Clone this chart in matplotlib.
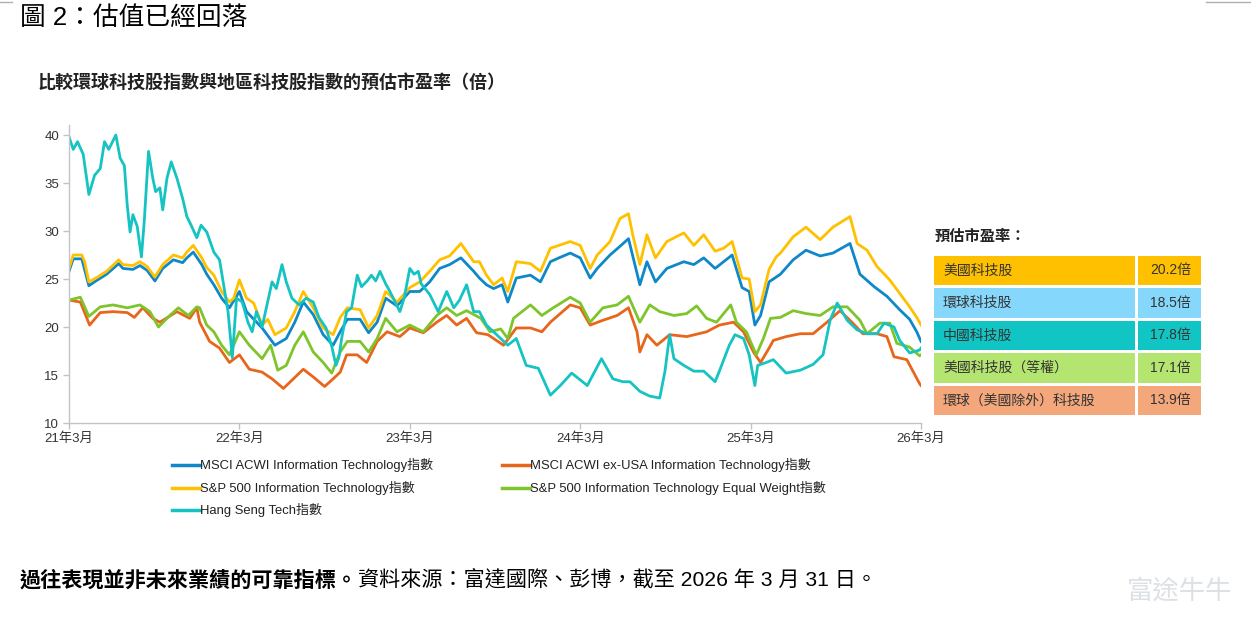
import matplotlib
matplotlib.use("Agg")
import matplotlib.pyplot as plt
from matplotlib import font_manager
from matplotlib.lines import Line2D
from matplotlib.patches import Rectangle

# (months since 2021-03, forward P/E)
acwi_it = [(0, 25.8), (0.3, 27.1), (0.9, 27.1), (1.4, 24.3), (1.9, 24.8), (2.65, 25.5), (3.5, 26.6), (3.8, 26.1),
           (4.5, 26.0), (5.0, 26.4), (5.5, 25.9), (6.05, 24.8), (6.6, 26.1), (7.35, 27.0), (8.0, 26.7), (8.3, 27.2),
           (8.75, 27.8), (9.35, 26.5), (9.7, 25.5), (10.2, 24.4), (10.75, 23.0), (11.3, 22.0), (12.0, 23.7),
           (12.5, 21.6), (13.6, 19.9), (14.5, 18.1), (15.3, 18.8), (15.9, 20.5), (16.5, 22.6), (17.2, 21.3),
           (17.9, 19.2), (18.6, 18.1), (19.1, 19.5), (19.6, 20.8), (20.5, 20.8), (21.1, 19.4), (21.7, 20.5),
           (22.3, 23.0), (23.1, 22.2), (24.0, 23.7), (24.7, 23.7), (25.4, 24.7), (26.1, 26.1), (26.8, 26.5),
           (27.6, 27.2), (28.5, 25.8), (28.9, 25.1), (29.4, 24.4), (29.9, 24.0), (30.5, 24.4), (30.9, 22.6),
           (31.5, 25.1), (32.5, 25.4), (33.2, 24.7), (33.9, 26.8), (34.5, 27.2), (35.3, 27.7), (36.0, 27.2),
           (36.7, 25.1), (37.2, 26.1), (38.1, 27.5), (38.8, 28.4), (39.4, 29.2), (40.2, 24.4), (40.7, 26.8),
           (41.3, 24.7), (42.1, 26.1), (43.3, 26.8), (44.0, 26.5), (44.7, 27.2), (45.5, 26.1), (46.7, 27.5),
           (47.4, 24.1), (47.9, 23.7), (48.3, 20.2), (48.7, 21.2), (49.3, 24.7), (50.1, 25.5), (51.0, 27.0),
           (51.9, 28.0), (52.9, 27.4), (53.8, 27.7), (55.0, 28.7), (55.7, 25.5), (56.7, 24.2), (57.6, 23.2),
           (58.5, 21.8), (59.2, 20.8), (59.7, 19.5), (60, 18.5)]

acwi_ex_usa_it = [(0, 22.8), (0.8, 22.6), (1.45, 20.2), (2.2, 21.5), (3.1, 21.6), (4.1, 21.5), (4.6, 21.0),
                  (5.2, 22.0), (5.9, 20.9), (6.4, 20.5), (7.6, 21.6), (8.5, 20.9), (9.0, 22.0), (9.2, 20.5),
                  (9.9, 18.5), (10.6, 17.8), (11.3, 16.3), (12.0, 17.1), (12.7, 15.6), (13.6, 15.3), (14.3, 14.6),
                  (15.1, 13.6), (15.8, 14.6), (16.5, 15.6), (17.2, 14.8), (18.0, 13.8), (18.6, 14.6), (19.1, 15.3),
                  (19.55, 17.1), (20.3, 17.1), (20.96, 16.3), (21.7, 18.5), (22.4, 19.5), (23.3, 19.0),
                  (24.0, 19.9), (24.95, 19.4), (25.9, 20.5), (26.6, 21.2), (27.3, 20.2), (28.0, 20.9),
                  (28.7, 19.4), (29.5, 19.2), (30.6, 18.1), (31.5, 19.9), (32.5, 19.9), (33.3, 19.5),
                  (33.9, 20.5), (35.3, 22.3), (36.0, 22.0), (36.7, 20.2), (37.6, 20.7), (38.6, 21.2),
                  (39.4, 22.0), (40.0, 19.5), (40.2, 17.4), (40.7, 19.2), (41.4, 18.1), (42.3, 19.2),
                  (43.5, 19.0), (44.9, 19.5), (45.8, 20.2), (46.8, 20.5), (47.5, 19.5), (48.2, 17.4),
                  (48.7, 16.3), (49.3, 17.8), (49.6, 18.6), (50.5, 19.0), (51.5, 19.3), (52.4, 19.3),
                  (53.3, 20.4), (54.3, 21.7), (55.2, 20.4), (55.9, 19.3), (56.9, 19.3), (57.6, 19.0),
                  (58.1, 16.9), (59.0, 16.6), (59.9, 14.1), (60, 13.9)]

sp500_it = [(0, 26.1), (0.3, 27.5), (0.9, 27.5), (1.1, 26.8), (1.4, 24.7), (1.9, 25.1), (2.65, 25.8), (3.5, 27.0),
            (3.8, 26.5), (4.5, 26.4), (5.0, 26.8), (5.5, 26.3), (6.05, 25.2), (6.6, 26.5), (7.35, 27.5),
            (8.0, 27.2), (8.3, 27.8), (8.75, 28.5), (9.35, 27.2), (9.7, 26.2), (10.2, 25.4), (10.75, 23.7),
            (11.3, 22.6), (11.6, 23.0), (12.0, 24.9), (12.5, 23.0), (13.0, 22.5), (13.6, 20.2), (14.0, 20.8),
            (14.5, 19.2), (15.3, 19.9), (15.9, 21.6), (16.5, 23.7), (17.2, 22.0), (17.9, 19.9), (18.6, 19.2),
            (19.1, 21.0), (19.6, 22.0), (20.5, 21.8), (21.1, 19.9), (21.7, 21.2), (22.3, 23.7), (23.1, 22.6),
            (24.0, 24.1), (24.7, 24.7), (25.4, 25.8), (26.1, 27.0), (26.8, 27.4), (27.6, 28.7), (28.5, 26.8),
            (28.9, 26.8), (29.4, 25.4), (29.9, 24.4), (30.5, 25.1), (30.9, 23.7), (31.5, 26.8), (32.5, 26.6),
            (33.2, 25.8), (33.9, 28.2), (34.5, 28.5), (35.3, 28.9), (36.0, 28.5), (36.7, 26.1), (37.2, 27.5),
            (38.1, 28.9), (38.8, 31.3), (39.4, 31.8), (39.7, 29.6), (40.2, 26.5), (40.7, 29.6), (41.3, 27.2),
            (42.1, 28.9), (43.3, 29.8), (44.0, 28.5), (44.7, 29.6), (45.5, 27.9), (46.1, 28.2), (46.7, 28.9),
            (47.4, 25.1), (47.9, 25.0), (48.3, 21.6), (48.7, 22.3), (49.3, 26.0), (49.8, 27.3), (50.1, 27.7),
            (51.0, 29.4), (51.9, 30.4), (52.9, 29.1), (53.8, 30.4), (55.0, 31.5), (55.5, 28.7), (56.2, 28.0),
            (56.9, 26.3), (57.8, 24.9), (58.5, 23.5), (59.2, 22.1), (59.7, 21.0), (60, 20.2)]

sp500_it_ew = [(0, 22.8), (0.8, 23.1), (1.4, 21.1), (2.2, 22.1), (3.1, 22.3), (4.1, 22.0), (5.0, 22.3),
               (5.7, 21.6), (6.3, 20.0), (7.1, 21.2), (7.7, 22.0), (8.4, 21.2), (9.0, 22.1), (9.2, 22.0),
               (9.7, 20.2), (10.2, 19.5), (10.75, 18.1), (11.3, 17.1), (12.0, 19.5), (12.7, 18.1), (13.6, 16.7),
               (14.2, 18.1), (14.7, 15.5), (15.3, 16.0), (15.9, 18.1), (16.5, 19.5), (17.2, 17.4), (17.9, 16.3),
               (18.5, 15.2), (19.1, 17.4), (19.6, 18.5), (20.5, 18.5), (21.1, 17.4), (21.7, 18.8), (22.3, 20.9),
               (23.1, 19.5), (24.0, 20.2), (24.95, 19.5), (25.9, 21.2), (26.6, 22.0), (27.3, 21.2), (28.0, 21.7),
               (29.0, 20.9), (29.65, 19.5), (30.4, 19.8), (30.9, 18.8), (31.3, 20.9), (32.5, 22.3), (33.3, 21.2),
               (34.1, 22.0), (35.3, 23.1), (36.0, 22.5), (36.7, 20.5), (37.6, 22.0), (38.6, 22.3), (39.4, 23.2),
               (40.2, 20.5), (40.9, 22.3), (41.6, 21.6), (42.6, 21.2), (43.5, 21.4), (44.2, 22.2), (44.9, 20.9),
               (45.6, 20.5), (46.6, 22.3), (47.0, 20.5), (47.7, 19.5), (48.4, 17.1), (48.9, 18.8), (49.4, 20.9),
               (50.1, 21.0), (51.0, 21.7), (51.9, 21.4), (52.9, 21.2), (53.8, 22.1), (54.8, 22.1), (55.7, 20.7),
               (56.2, 19.3), (57.1, 20.4), (57.8, 20.4), (58.3, 18.3), (59.2, 17.9), (59.9, 17.0), (60, 17.1)]

hang_seng_tech = [(0, 39.8), (0.3, 38.5), (0.6, 39.3), (1.0, 38.0), (1.4, 33.8), (1.8, 35.8), (2.2, 36.5),
                  (2.5, 39.3), (2.8, 38.5), (3.3, 40.0), (3.6, 37.6), (3.9, 36.8), (4.1, 32.7), (4.3, 29.9),
                  (4.5, 31.7), (4.8, 30.5), (5.1, 27.3), (5.3, 31.0), (5.6, 38.3), (5.9, 35.5), (6.1, 34.1),
                  (6.4, 34.5), (6.6, 32.2), (6.9, 35.5), (7.2, 37.2), (7.6, 35.5), (8.0, 33.4), (8.3, 31.5),
                  (8.6, 30.6), (9.0, 29.3), (9.3, 30.6), (9.7, 29.9), (10.2, 27.8), (10.6, 27.0), (11.2, 21.6),
                  (11.5, 16.8), (11.8, 23.0), (12.2, 22.6), (12.6, 20.5), (12.9, 19.5), (13.2, 21.6), (13.6, 20.0),
                  (14.3, 24.7), (14.6, 24.0), (15.0, 26.5), (15.3, 24.7), (15.7, 23.0), (16.2, 22.3), (16.7, 23.0),
                  (17.2, 22.6), (17.6, 21.0), (18.1, 19.9), (18.5, 18.0), (18.8, 16.0), (19.0, 16.8), (19.2, 18.8),
                  (19.55, 21.6), (19.9, 22.0), (20.3, 25.4), (20.6, 24.2), (21.0, 24.8), (21.3, 25.4), (21.6, 24.8),
                  (21.9, 25.8), (22.3, 24.5), (22.6, 23.7), (23.0, 22.5), (23.3, 21.6), (23.6, 23.0), (24.0, 26.1),
                  (24.3, 25.5), (24.6, 25.8), (24.8, 24.5), (25.4, 23.4), (26.0, 21.6), (26.6, 23.7), (27.1, 22.0),
                  (27.5, 22.8), (28.0, 24.4), (28.5, 21.6), (28.9, 21.6), (29.4, 20.2), (30.4, 18.8), (30.9, 18.1),
                  (31.5, 18.8), (32.2, 16.0), (33.05, 15.7), (33.9, 12.9), (34.6, 13.9), (35.4, 15.2), (36.5, 13.9),
                  (37.5, 16.7), (38.3, 14.6), (39.0, 14.3), (39.5, 14.3), (40.2, 13.3), (40.9, 12.8), (41.6, 12.6),
                  (41.97, 15.4), (42.3, 19.2), (42.6, 16.7), (43.3, 16.0), (44.0, 15.4), (44.7, 15.4), (45.5, 14.3),
                  (45.8, 15.4), (46.5, 18.1), (46.9, 19.2), (47.5, 18.8), (47.9, 17.1), (48.3, 13.9), (48.5, 16.0),
                  (49.1, 16.3), (49.6, 16.6), (50.5, 15.2), (51.5, 15.5), (52.4, 16.1), (53.1, 17.1), (53.6, 20.7),
                  (54.1, 22.5), (54.8, 20.7), (55.5, 19.7), (56.2, 19.3), (56.9, 19.3), (57.4, 20.4), (58.1, 20.0),
                  (58.5, 18.6), (59.2, 17.3), (59.9, 17.6), (60, 17.8)]

x_ticks = [0, 12, 24, 36, 48, 60]
x_labels = ["21年3月", "22年3月", "23年3月", "24年3月", "25年3月", "26年3月"]

table_names = ["美國科技股", "環球科技股", "中國科技股", "美國科技股（等權）", "環球（美國除外）科技股"]
table_values = ["20.2倍", "18.5倍", "17.8倍", "17.1倍", "13.9倍"]
table_colors = ["#FFC000", "#85D8FB", "#12C5C5", "#B5E571", "#F3A77B"]

# fonts
have = {f.name for f in font_manager.fontManager.ttflist}
CJK = "Noto Sans CJK TC"
latin = [f for f in ["Liberation Sans", "DejaVu Sans"] if f in have][:1]
plt.rcParams["font.family"] = latin + [CJK]
MIX = latin + [CJK]

W, H = 1251, 627
fig = plt.figure(figsize=(W / 100, H / 100), dpi=100)


def fx(px):
    return px / W


def fy(py):
    return 1 - py / H


ax = fig.add_axes([fx(69), fy(423), fx(921) - fx(69), fy(125.4) - fy(423)])

series = [
    (acwi_it, "#0E88C8", "MSCI ACWI Information Technology指數"),
    (acwi_ex_usa_it, "#E8661C", "MSCI ACWI ex-USA Information Technology指數"),
    (sp500_it, "#FFC000", "S&P 500 Information Technology指數"),
    (sp500_it_ew, "#7DC52A", "S&P 500 Information Technology Equal Weight指數"),
    (hang_seng_tech, "#16C3C3", "Hang Seng Tech指數"),
]
for pts, color, label in series:
    xs, ys = zip(*pts)
    ax.plot(xs, ys, color=color, lw=2.0, solid_joinstyle="round")

ax.set_xlim(0, 60)
ax.set_ylim(10, 41)
ax.set_yticks([10, 15, 20, 25, 30, 35, 40])
ax.set_xticks(x_ticks)
ax.set_xticklabels(x_labels)
for s in ["top", "right"]:
    ax.spines[s].set_visible(False)
for s in ["left", "bottom"]:
    ax.spines[s].set_color("#c3c3cb")
    ax.spines[s].set_linewidth(1.0)
ax.tick_params(axis="both", length=4, width=1, color="#c3c3cb", labelcolor="#333333", labelsize=9.5, pad=3)
for t in ax.get_xticklabels() + ax.get_yticklabels():
    t.set_family(MIX)

# legend, two columns laid out like the source
legend_pos = [(172, 465), (502, 465), (172, 488), (502, 488), (172, 510)]
for (px, py), (_, color, label) in zip(legend_pos, series):
    fig.add_artist(Line2D([fx(px), fx(px + 28)], [fy(py), fy(py)], color=color, lw=2.5,
                          transform=fig.transFigure))
    fig.text(fx(px + 28), fy(py), label, fontsize=9.35, color="#222222", va="center", ha="left",
             family=MIX)

# titles and notes
fig.text(fx(20), fy(18), "圖 2：估值已經回落", fontsize=18.5, color="#000000", va="center", ha="left", family=MIX)
fig.text(fx(38), fy(83), "比較環球科技股指數與地區科技股指數的預估市盈率（倍）", fontsize=13,
         color="#222222", va="center", ha="left", fontweight="bold", family=MIX)

note_bold = fig.text(fx(20), fy(580), "過往表現並非未來業績的可靠指標。", fontsize=15.2, color="#000000",
                     va="center", ha="left", fontweight="bold", family=MIX)
renderer = fig.canvas.get_renderer()
bb = note_bold.get_window_extent(renderer=renderer)
fig.text(bb.x1 / W, fy(580), "資料來源：富達國際、彭博，截至 2026 年 3 月 31 日。", fontsize=15.2,
         color="#000000", va="center", ha="left", family=MIX)
fig.text(fx(1232), fy(591), "富途牛牛", fontsize=19, color="#dde1e6", va="center", ha="right", family=MIX)

# thin rules at the very top
fig.add_artist(Line2D([0, fx(12)], [fy(2), fy(2)], color="#b0b0b0", lw=1, transform=fig.transFigure))
fig.add_artist(Line2D([fx(1206), 1], [fy(2), fy(2)], color="#b0b0b0", lw=1, transform=fig.transFigure))

# valuation table on the right
fig.text(fx(935), fy(237), "預估市盈率：", fontsize=11, color="#222222", va="center", ha="left",
         fontweight="bold", family=MIX)
row_top = [255.7, 288.3, 320.7, 353.3, 385.7]
row_h = 29.5
for top, name, val, col in zip(row_top, table_names, table_values, table_colors):
    fig.add_artist(Rectangle((fx(934), fy(top + row_h)), fx(1135) - fx(934), fy(top) - fy(top + row_h),
                             facecolor=col, edgecolor="none", transform=fig.transFigure))
    fig.add_artist(Rectangle((fx(1137.5), fy(top + row_h)), fx(1200.5) - fx(1137.5), fy(top) - fy(top + row_h),
                             facecolor=col, edgecolor="none", transform=fig.transFigure))
    fig.text(fx(943), fy(top + row_h / 2), name, fontsize=10, color="#333333", va="center", ha="left",
             family=MIX)
    fig.text(fx(1191), fy(top + row_h / 2), val, fontsize=10, color="#333333", va="center", ha="right",
             family=MIX)

fig.savefig("out.png", dpi=100)
